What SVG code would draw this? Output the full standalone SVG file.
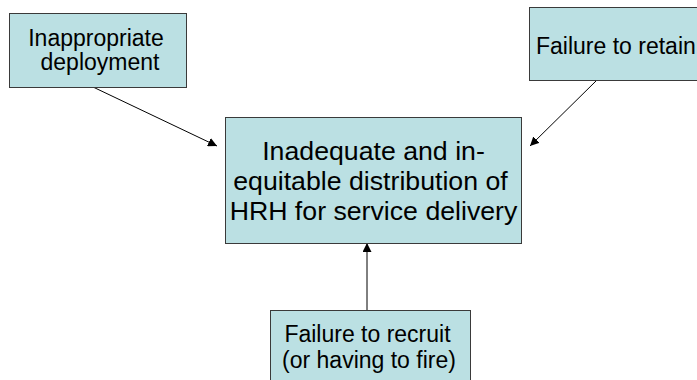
<svg xmlns="http://www.w3.org/2000/svg" width="697" height="380" viewBox="0 0 697 380">
<style>
.box{fill:#BBE0E3;stroke:#3a3a3a;stroke-width:1}
.t{font-family:"Liberation Sans",Arial,sans-serif;fill:#000;text-anchor:middle}
.s{font-size:23px}
.b{font-size:26.7px}
.c{stroke:#000;stroke-width:1;fill:none;marker-end:url(#ah)}
</style>
<defs>
<marker id="ah" viewBox="0 0 10 10" refX="10" refY="5" markerWidth="9" markerHeight="9" markerUnits="userSpaceOnUse" orient="auto">
<path d="M0,0 L10,5 L0,10 z" fill="#000"/>
</marker>
</defs>
<rect width="697" height="380" fill="#fff"/>
<g id="connectors">
<line class="c" x1="93" y1="87" x2="217" y2="146"/>
<line class="c" x1="597" y1="80" x2="530" y2="146"/>
<line class="c" x1="367" y1="310" x2="367" y2="243"/>
</g>
<g id="node-deployment">
<rect class="box" x="9.5" y="13.5" width="177" height="74"/>
<text class="t s" x="96" y="45.5">Inappropriate</text>
<text class="t s" x="100" y="70">deployment</text>
</g>
<g id="node-retain">
<rect class="box" x="529.5" y="7.5" width="180" height="73"/>
<text class="t s" x="536" y="54" style="text-anchor:start">Failure to retain</text>
</g>
<g id="node-center">
<rect class="box" x="225.5" y="117.5" width="296" height="126"/>
<text class="t b" x="373.5" y="159.5">Inadequate and in-</text>
<text class="t b" x="370.5" y="189.5">equitable distribution of</text>
<text class="t b" x="373.5" y="219.5">HRH for service delivery</text>
</g>
<g id="node-recruit">
<rect class="box" x="270.5" y="310.5" width="200" height="80"/>
<text class="t s" x="367.5" y="341.5">Failure to recruit</text>
<text class="t s" x="369" y="368">(or having to fire)</text>
</g>
</svg>
